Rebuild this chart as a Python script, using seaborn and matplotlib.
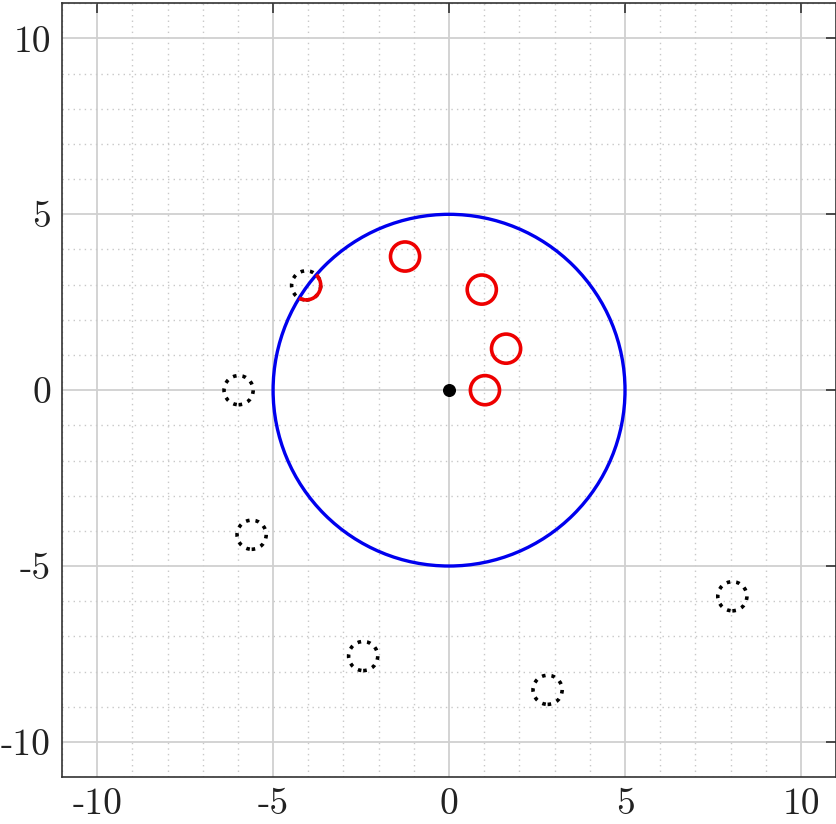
import numpy as np
import pandas as pd
import matplotlib
matplotlib.use("Agg")
import matplotlib.pyplot as plt
from matplotlib.patches import Circle
from matplotlib.ticker import MultipleLocator
import seaborn as sns

# Daten
radius = 5
innen_x = [-1.25, 0.93, 1.62, 1.02, -4.06]
innen_y = [3.80, 2.86, 1.18, 0.0, 2.98]
aussen_x = [-4.06, -5.98, -5.61, -2.44, 2.80, 8.05]
aussen_y = [2.98, 0.0, -4.11, -7.56, -8.52, -5.86]
zentrum_x = [0.0]
zentrum_y = [0.0]
ticks = [-10, -5, 0, 5, 10]
tick_labels = ["-10", "-5", "0", "5", "10"]

df_innen = pd.DataFrame({"x": innen_x, "y": innen_y})
df_aussen = pd.DataFrame({"x": aussen_x, "y": aussen_y})

sns.set_style("white")
plt.rcParams["font.family"] = ["cmr10", "DejaVu Serif"]

fig = plt.figure(figsize=(8.37, 8.24), dpi=100)
ax = fig.add_axes([0.074, 0.057, 0.925, 0.939])

# Gitter
ax.xaxis.set_minor_locator(MultipleLocator(1))
ax.yaxis.set_minor_locator(MultipleLocator(1))
ax.grid(which="major", color="#d0d0d0", linewidth=1.3, linestyle="-")
ax.grid(which="minor", color="#c8c8c8", linewidth=1.0, linestyle=(0, (1, 3)))
ax.set_axisbelow(True)

# Aeussere Punkte (gepunktet)
sns.scatterplot(data=df_aussen, x="x", y="y", s=440, facecolor="none",
                edgecolor="black", linewidth=2.6, linestyle=":", ax=ax, zorder=3)

# Kreis
kreis = Circle((0, 0), radius, fill=False, edgecolor="#0000ee", linewidth=2.4, zorder=4)
ax.add_patch(kreis)

# Innere Punkte (rot), auf Kreis beschnitten
sns.scatterplot(data=df_innen, x="x", y="y", s=440, facecolor="none",
                edgecolor="#ee0000", linewidth=2.6, ax=ax, zorder=5)
clip = Circle((0, 0), radius, transform=ax.transData)
ax.collections[-1].set_clip_path(clip)

# Zentrum
ax.scatter(zentrum_x, zentrum_y, s=70, color="black", zorder=6)

ax.set_xlim(-11, 11)
ax.set_ylim(-11, 11)
ax.set_xticks(ticks)
ax.set_yticks(ticks)
ax.set_xticklabels(tick_labels)
ax.set_yticklabels(tick_labels)
ax.tick_params(which="major", direction="in", length=7, width=1.2, color="#333333",
               top=True, right=True, labelsize=27, pad=8, labelcolor="#222222")
ax.tick_params(which="minor", length=0)
ax.set_xlabel("")
ax.set_ylabel("")
for s in ax.spines.values():
    s.set_color("#333333")
    s.set_linewidth(1.2)

fig.savefig("out.png", dpi=100)
